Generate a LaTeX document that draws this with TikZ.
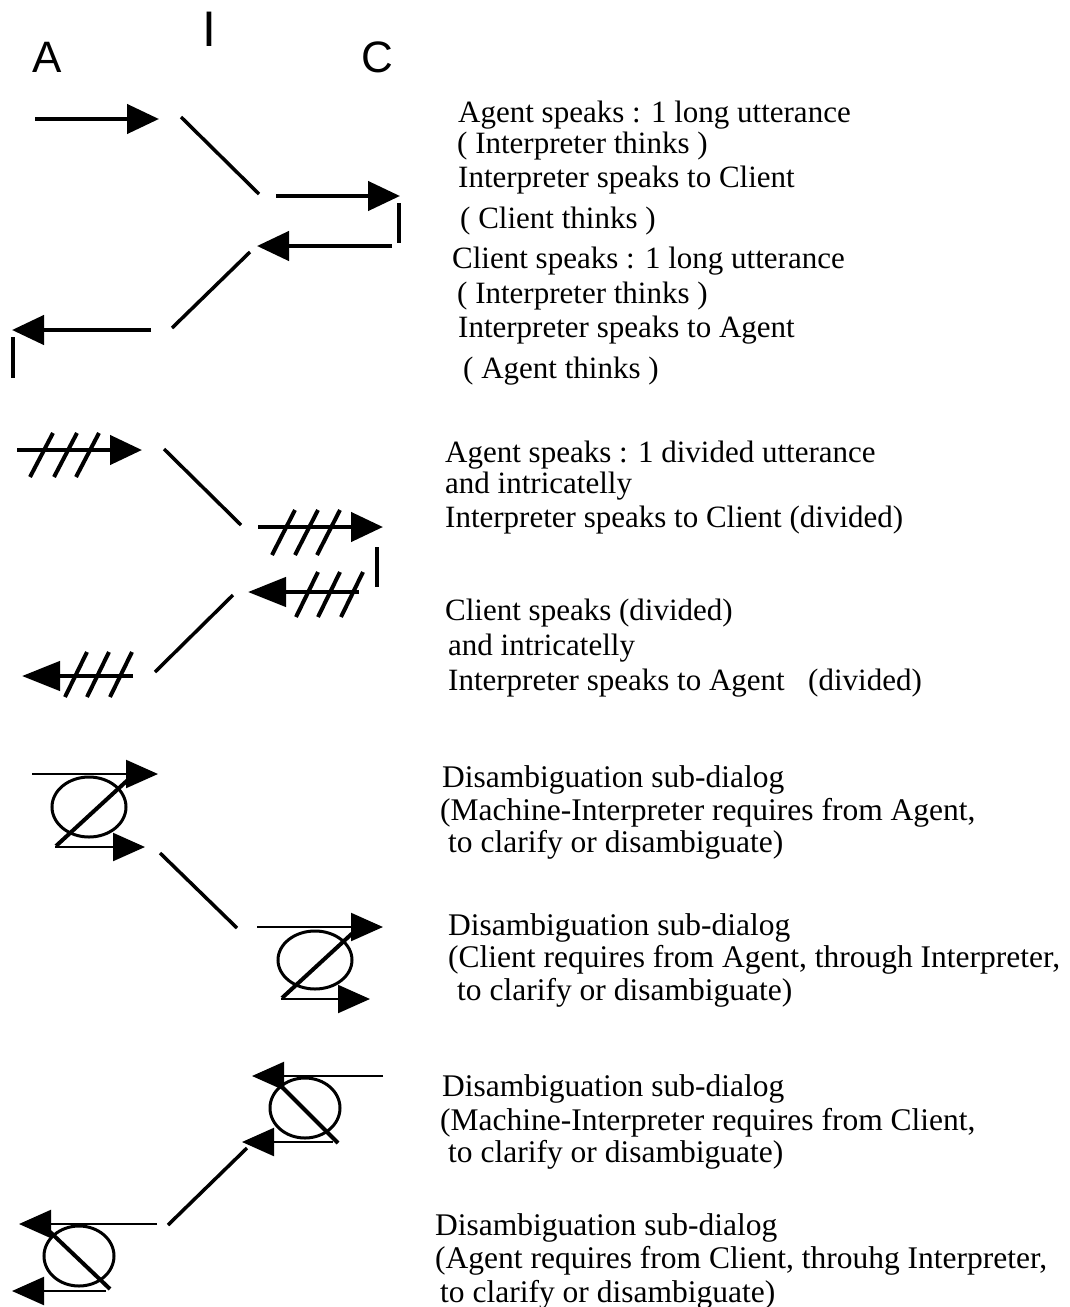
\documentclass[tikz,border=0pt]{standalone}
\usepackage{fontspec}
\setmainfont{Liberation Serif}
\newfontfamily\labelfont{Liberation Sans}
\usetikzlibrary{arrows.meta}
\begin{document}
\begin{tikzpicture}[x=1pt,y=-1pt,
  shaft/.style={line width=4.5pt,-{Triangle[length=32pt,width=29pt]}},
  longtip/.style={line width=4.5pt,-{Triangle[length=38pt,width=29pt]}},
  thinarrow/.style={line width=2.2pt,-{Triangle[length=32pt,width=28pt]}},
  link/.style={line width=3.5pt},
  tickmark/.style={line width=3.5pt},
  hash/.style={line width=4pt},
  zbar/.style={line width=4pt},
  ring/.style={line width=3pt},
  lbl/.style={anchor=base west, inner sep=0pt, font=\fontsize{31}{37}\selectfont},
  lblw/.style={anchor=base west, inner sep=0pt, font=\fontsize{31.5}{37}\selectfont},
  role/.style={anchor=base, inner sep=0pt, font=\labelfont\fontsize{44}{48}\selectfont}]
\useasboundingbox (0,0) rectangle (1070,1307);
\fill[white] (0,0) rectangle (1070,1307);

% role labels
\node[role] (lA) at (47,72) {A};
\node[role,font=\labelfont\fontsize{50}{54}\selectfont] (lI) at (209,46) {I};
\node[role] (lC) at (377,72) {C};

% ---- section 1: long utterances
\coordinate (p1) at (35,119);  \coordinate (p2) at (159,119);
\coordinate (p3) at (181,117); \coordinate (p4) at (259,194);
\coordinate (p5) at (276,196); \coordinate (p6) at (400,196);
\coordinate (p7) at (399,203); \coordinate (p8) at (399,243);
\coordinate (p9) at (392,246); \coordinate (p10) at (257,246);
\coordinate (p11) at (250,252); \coordinate (p12) at (172,328);
\coordinate (p13) at (151,330); \coordinate (p14) at (12,330);
\coordinate (p15) at (13,337); \coordinate (p16) at (13,378);
\draw[shaft] (p1) -- (p2);
\draw[link] (p3) -- (p4);
\draw[shaft] (p5) -- (p6);
\draw[tickmark] (p7) -- (p8);
\draw[shaft] (p9) -- (p10);
\draw[link] (p11) -- (p12);
\draw[shaft] (p13) -- (p14);
\draw[tickmark] (p15) -- (p16);

% ---- section 2: divided utterances
\coordinate (q1) at (17,450);  \coordinate (q2) at (142,450);
\coordinate (q3) at (164,449); \coordinate (q4) at (241,525);
\coordinate (q5) at (258,527); \coordinate (q6) at (383,527);
\coordinate (q7) at (377,547); \coordinate (q8) at (377,587);
\coordinate (q9) at (359,592); \coordinate (q10) at (248,592);
\coordinate (q11) at (233,595); \coordinate (q12) at (155,672);
\coordinate (q13) at (133,676); \coordinate (q14) at (22,676);
\draw[shaft] (q1) -- (q2);
\foreach \x in {30,54,76} \draw[hash] (\x,477) -- ++(23,-44);
\draw[link] (q3) -- (q4);
\draw[shaft] (q5) -- (q6);
\foreach \x in {272,295,317} \draw[hash] (\x,555) -- ++(23,-45);
\draw[tickmark] (q7) -- (q8);
\draw[longtip] (q9) -- (q10);
\foreach \x in {296,318,341} \draw[hash] (\x,617) -- ++(22,-45);
\draw[link] (q11) -- (q12);
\draw[longtip] (q13) -- (q14);
\foreach \x in {65,87,110} \draw[hash] (\x,697) -- ++(22,-45);

% ---- section 3: disambiguation (I asks A, C asks A)
\coordinate (e1) at (89,807);
\draw[ring] (e1) ellipse [x radius=37, y radius=30];
\draw[thinarrow] (32,774) -- (158,774);
\draw[zbar] (56,846) -- (131,777);
\draw[thinarrow] (55,847) -- (145,847);
\coordinate (r1) at (160,853); \coordinate (r2) at (237,928);
\draw[link] (r1) -- (r2);
\coordinate (e2) at (315,960);
\draw[ring] (e2) ellipse [x radius=37, y radius=29];
\draw[thinarrow] (257,927) -- (383,927);
\draw[zbar] (282,998) -- (357,929);
\draw[thinarrow] (281,999) -- (370,999);

% ---- section 4: disambiguation (I asks C, A asks C)
\coordinate (e3) at (305,1108);
\draw[ring] (e3) ellipse [x radius=35, y radius=30];
\draw[thinarrow] (383,1076) -- (252,1076);
\draw[zbar] (274,1079) -- (338,1143);
\draw[thinarrow] (333,1142) -- (242,1142);
\coordinate (r3) at (247,1148); \coordinate (r4) at (168,1225);
\draw[link] (r3) -- (r4);
\coordinate (e4) at (79,1256);
\draw[ring] (e4) ellipse [x radius=35, y radius=30];
\draw[thinarrow] (157,1224) -- (19,1224);
\draw[zbar] (47,1229) -- (110,1289);
\draw[thinarrow] (106,1291) -- (12,1291);

% ---- texts
\node[lbl] (t1) at (458,122) {Agent speaks : 1 long utterance};
\node[lbl] (t2) at (457,153) {( Interpreter thinks )};
\node[lbl] (t3) at (458,187) {Interpreter speaks to Client};
\node[lbl] (t4) at (460,228) {( Client thinks )};
\node[lbl] (t5) at (452,268) {Client speaks : 1 long utterance};
\node[lbl] (t6) at (457,303) {( Interpreter thinks )};
\node[lbl] (t7) at (458,337) {Interpreter speaks to Agent};
\node[lbl] (t8) at (463,378) {( Agent thinks )};

\node[lbl] (t9) at (445,462) {Agent speaks : 1 divided utterance};
\node[lbl] (t10) at (445,493) {and intricatelly};
\node[lbl] (t11) at (445,527) {Interpreter speaks to Client (divided)};
\node[lbl] (t12) at (445,620) {Client speaks (divided)};
\node[lbl] (t13) at (448,655) {and intricatelly};
\node[lbl] (t14) at (448,690) {Interpreter speaks to Agent};
\node[lbl] (t14b) at (808,690) {(divided)};

\node[lblw] (t15) at (442,787) {Disambiguation sub-dialog};
\node[lblw] (t16) at (440,820) {(Machine-Interpreter requires from Agent,};
\node[lblw] (t17) at (448,852) {to clarify or disambiguate)};
\node[lblw] (t18) at (448,935) {Disambiguation sub-dialog};
\node[lblw] (t19) at (448,967) {(Client requires from Agent, through Interpreter,};
\node[lblw] (t20) at (457,1000) {to clarify or disambiguate)};

\node[lblw] (t21) at (442,1096) {Disambiguation sub-dialog};
\node[lblw] (t22) at (440,1130) {(Machine-Interpreter requires from Client,};
\node[lblw] (t23) at (448,1162) {to clarify or disambiguate)};
\node[lblw] (t24) at (435,1235) {Disambiguation sub-dialog};
\node[lblw] (t25) at (435,1268) {(Agent requires from Client, throuhg Interpreter,};
\node[lblw] (t26) at (440,1302) {to clarify or disambiguate)};
\end{tikzpicture}
\end{document}
